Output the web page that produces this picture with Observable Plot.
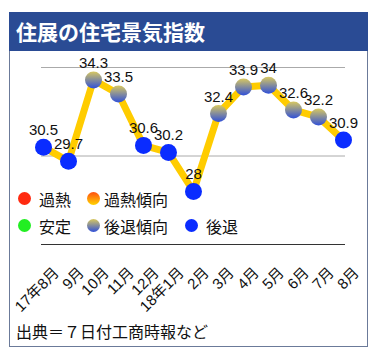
<!DOCTYPE html>
<html><head><meta charset="utf-8">
<script src="https://cdn.jsdelivr.net/npm/d3@7"></script>
<script src="https://cdn.jsdelivr.net/npm/@observablehq/plot@0.6"></script>
<style>
body{margin:0;background:#fff;font-family:"Liberation Sans","Noto Sans CJK JP",sans-serif;}
#frame{position:absolute;left:9px;top:12px;width:357px;height:334px;border:1px solid #6b7a99;border-top:none;}
#title{height:39px;background:#2a4b94;color:#fff;font-weight:bold;font-size:21px;line-height:39px;padding-left:7px;margin:0 -1px;font-family:"Noto Sans CJK JP",sans-serif;}
#chart{position:relative;}
#legend{position:absolute;left:0;top:134px;font-size:16px;color:#111;font-family:"Noto Sans CJK JP",sans-serif;}
.row{position:relative;height:27px;}
.it{position:absolute;top:0;height:27px;display:flex;align-items:center;white-space:nowrap;}
.dot{width:13px;height:13px;border-radius:50%;display:inline-block;flex:none;}
#caption{font-size:16px;padding-left:6px;margin-top:1px;color:#111;font-family:"Noto Sans CJK JP",sans-serif;line-height:22px;}
</style></head>
<body>
<div id="frame">
<div id="title">住展の住宅景気指数</div>
<div id="chart"></div>
<div id="caption">出典＝７日付工商時報など</div>
</div>
<script>
const months = ["17年8月","9月","10月","11月","12月","18年1月","2月","3月","4月","5月","6月","7月","8月"];
const values = [30.5,29.7,34.3,33.5,30.6,30.2,28,32.4,33.9,34,32.6,32.2,30.9];
const states = ["後退","後退","後退傾向","後退傾向","後退","後退","後退","後退傾向","後退傾向","後退傾向","後退傾向","後退傾向","後退"];
const gridValues = [30, 35];
const legendRows = [["過熱","過熱傾向"],["安定","後退傾向","後退"]];
const fills = {"過熱":"#ff2a10","過熱傾向":"url(#gOrange)","安定":"#22ee22","後退傾向":"url(#gFall)","後退":"#0a2cff"};
const cssFills = {"過熱":"#ff2a10","過熱傾向":"linear-gradient(#ff5010,#ffd400)","安定":"#22ee22","後退傾向":"linear-gradient(#d8c860,#3050d8)","後退":"#0a2cff"};

const data = months.map((m,i)=>({m, v: values[i], s: states[i]}));

const chart = Plot.plot({
  width: 357, height: 268,
  marginLeft: 31, marginRight: 22, marginTop: 16, marginBottom: 75,
  x: {type: "point", domain: months, padding: 0},
  y: {domain: [25, 35]},
  style: {fontFamily: "'Liberation Sans','Noto Sans CJK JP', sans-serif", fontSize: "15px", color: "#111", background: "transparent"},
  marks: [
    Plot.ruleY(gridValues, {stroke: "#aaa", strokeWidth: 1, strokeOpacity: 1}),
    Plot.ruleY([25], {stroke: "#333", strokeWidth: 1}),
    Plot.line(data, {x: "m", y: "v", stroke: "#ffcc00", strokeWidth: 7, strokeLinejoin: "miter"}),
    Plot.dot(data, {x: "m", y: "v", r: 8.5, fill: d => fills[d.s], stroke: "none"}),
    Plot.text(data, {x: "m", y: "v", text: d => String(d.v), dy: -12, lineAnchor: "bottom", fontSize: 15, fill: "#111"}),
    Plot.axisX({tickSize: 0, tickRotate: -45, dx: 13, dy: 14, fontSize: 15, label: null, fill: "#111"}),
    Plot.axisY({ticks: [], label: null, tickSize: 0})
  ]
});
const defs = d3.select(chart).insert("defs", ":first-child");
const g1 = defs.append("linearGradient").attr("id","gFall").attr("x1",0).attr("y1",0).attr("x2",0).attr("y2",1);
g1.append("stop").attr("offset","0%").attr("stop-color","#d8c860");
g1.append("stop").attr("offset","100%").attr("stop-color","#3050d8");
const g2 = defs.append("linearGradient").attr("id","gOrange").attr("x1",0).attr("y1",0).attr("x2",0).attr("y2",1);
g2.append("stop").attr("offset","0%").attr("stop-color","#ff5010");
g2.append("stop").attr("offset","100%").attr("stop-color","#ffd400");
document.getElementById("chart").appendChild(chart);

// legend
const leg = document.createElement("div");
leg.id = "legend";
const lefts = [8, 77, 175];
const gaps = [8, 4, 8];
legendRows.forEach(r => {
  const row = document.createElement("div"); row.className = "row";
  r.forEach((name, j) => {
    const d = document.createElement("div"); d.className = "it";
    d.style.left = lefts[j] + "px"; d.style.gap = gaps[j] + "px";
    const dot = document.createElement("span"); dot.className = "dot"; dot.style.background = cssFills[name];
    const t = document.createElement("span"); t.textContent = name;
    d.appendChild(dot); d.appendChild(t); row.appendChild(d);
  });
  leg.appendChild(row);
});
document.getElementById("chart").appendChild(leg);
</script>
</body></html>
